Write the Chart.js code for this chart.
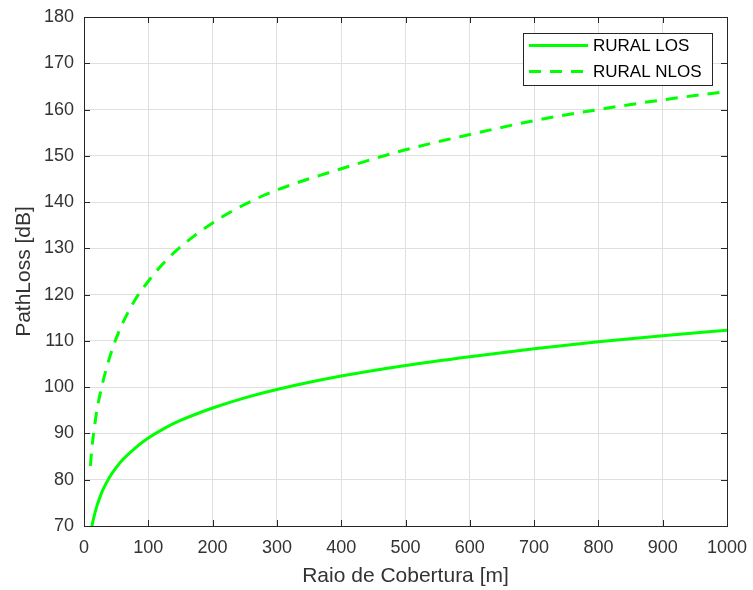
<!DOCTYPE html>
<html>
<head>
<meta charset="utf-8">
<script src="https://cdn.jsdelivr.net/npm/chart.js@4"></script>
<style>
  html, body { margin: 0; padding: 0; background: #fff; }
  canvas { display: block; }
</style>
</head>
<body>
<canvas id="plChart" width="753" height="590"></canvas>
<script>
// valores (distância em m, perda em dB)
const distLos = [10, 12, 15, 20, 25, 30, 40, 50, 60, 80, 100, 125, 150, 200, 250, 300, 400, 500, 600, 700, 800, 900, 1000];
const lossLos = [68.1, 69.7, 71.7, 74.3, 76.3, 78.0, 80.6, 82.6, 84.3, 86.9, 89.0, 91.1, 92.8, 95.5, 97.7, 99.5, 102.4, 104.7, 106.6, 108.3, 109.8, 111.1, 112.3];
const distNlos = [10, 12, 15, 20, 25, 30, 40, 50, 60, 80, 100, 125, 150, 200, 250, 300, 400, 500, 600, 700, 800, 900, 1000];
const lossNlos = [83.0, 86.5, 90.0, 95.0, 98.5, 101.5, 106.5, 110.5, 113.8, 119.0, 122.9, 127.0, 130.3, 135.5, 139.5, 142.6, 147.2, 151.3, 154.6, 157.6, 160.0, 162.1, 163.9];
const labelLos = "RURAL LOS";
const labelNlos = "RURAL NLOS";

const AXIS = "#262626";
const TEXT = "#333333";
const FONT = "'Liberation Sans', Arial, Helvetica, sans-serif";

// caixa + ticks para dentro (estilo MATLAB) + legenda
const boxPlugin = {
  id: "box",
  afterDraw(chart) {
    const ctx = chart.ctx, a = chart.chartArea;
    const xs = chart.scales.x, ys = chart.scales.y;
    const tl = 6;
    ctx.save();
    ctx.strokeStyle = AXIS;
    ctx.lineWidth = 1;
    ctx.beginPath();
    xs.ticks.forEach(t => {
      const px = Math.round(xs.getPixelForValue(t.value)) + 0.5;
      ctx.moveTo(px, a.bottom); ctx.lineTo(px, a.bottom - tl);
      ctx.moveTo(px, a.top); ctx.lineTo(px, a.top + tl);
    });
    ys.ticks.forEach(t => {
      const py = Math.round(ys.getPixelForValue(t.value)) + 0.5;
      ctx.moveTo(a.left, py); ctx.lineTo(a.left + tl, py);
      ctx.moveTo(a.right, py); ctx.lineTo(a.right - tl, py);
    });
    ctx.stroke();
    ctx.strokeRect(Math.round(a.left) + 0.5, Math.round(a.top) + 0.5, Math.round(a.right - a.left), Math.round(a.bottom - a.top));

    // legenda
    const lx = 523, ly = 33, lw = 189, lh = 52;
    ctx.fillStyle = "#fff";
    ctx.fillRect(lx, ly, lw, lh);
    ctx.strokeRect(lx + 0.5, ly + 0.5, lw, lh);
    const rows = [45.5, 71.5];
    chart.data.datasets.forEach((ds, i) => {
      ctx.beginPath();
      ctx.strokeStyle = ds.borderColor;
      ctx.lineWidth = ds.borderWidth;
      ctx.setLineDash(ds.borderDash || []);
      ctx.moveTo(529, rows[i]); ctx.lineTo(588, rows[i]);
      ctx.stroke();
      ctx.setLineDash([]);
      ctx.fillStyle = "#000";
      ctx.font = "17px " + FONT;
      ctx.textBaseline = "middle";
      ctx.textAlign = "left";
      ctx.fillText(ds.label, 593, rows[i] + 1);
    });
    ctx.restore();
  }
};

new Chart(document.getElementById("plChart"), {
  type: "line",
  data: {
    datasets: [
      { label: labelLos, data: distLos.map((d, i) => ({ x: d, y: lossLos[i] })),
        borderColor: "#00ff00", borderWidth: 3, pointRadius: 0, fill: false, cubicInterpolationMode: "monotone" },
      { label: labelNlos, data: distNlos.map((d, i) => ({ x: d, y: lossNlos[i] })),
        borderColor: "#00ff00", borderWidth: 3, borderDash: [12, 9], pointRadius: 0, fill: false, cubicInterpolationMode: "monotone" }
    ]
  },
  options: {
    responsive: false,
    animation: false,
    layout: { padding: { left: 0, top: 17, right: 26, bottom: 0 } },
    plugins: { legend: { display: false }, tooltip: { enabled: false } },
    scales: {
      x: {
        type: "linear", min: 0, max: 1000,
        ticks: { stepSize: 100, color: TEXT, font: { family: FONT, size: 18 }, padding: 11, maxRotation: 0,
                 callback: v => String(v) },
        grid: { color: "#dfdfdf", drawTicks: false },
        border: { display: false },
        title: { display: true, text: "Raio de Cobertura [m]", color: TEXT, font: { family: FONT, size: 21 }, padding: { top: 0, bottom: 1 } },
        afterFit(s) { s.height = 64; s.paddingLeft = 0; s.paddingRight = 0; }
      },
      y: {
        type: "linear", min: 70, max: 180,
        ticks: { stepSize: 10, color: TEXT, font: { family: FONT, size: 18 }, padding: 10 },
        grid: { color: "#dfdfdf", drawTicks: false },
        border: { display: false },
        title: { display: true, text: "PathLoss [dB]", color: TEXT, font: { family: FONT, size: 21 }, padding: { top: 12, bottom: 0 } },
        afterFit(s) { s.width = 84; s.paddingTop = 0; s.paddingBottom = 0; }
      }
    }
  },
  plugins: [boxPlugin]
});
</script>
</body>
</html>
